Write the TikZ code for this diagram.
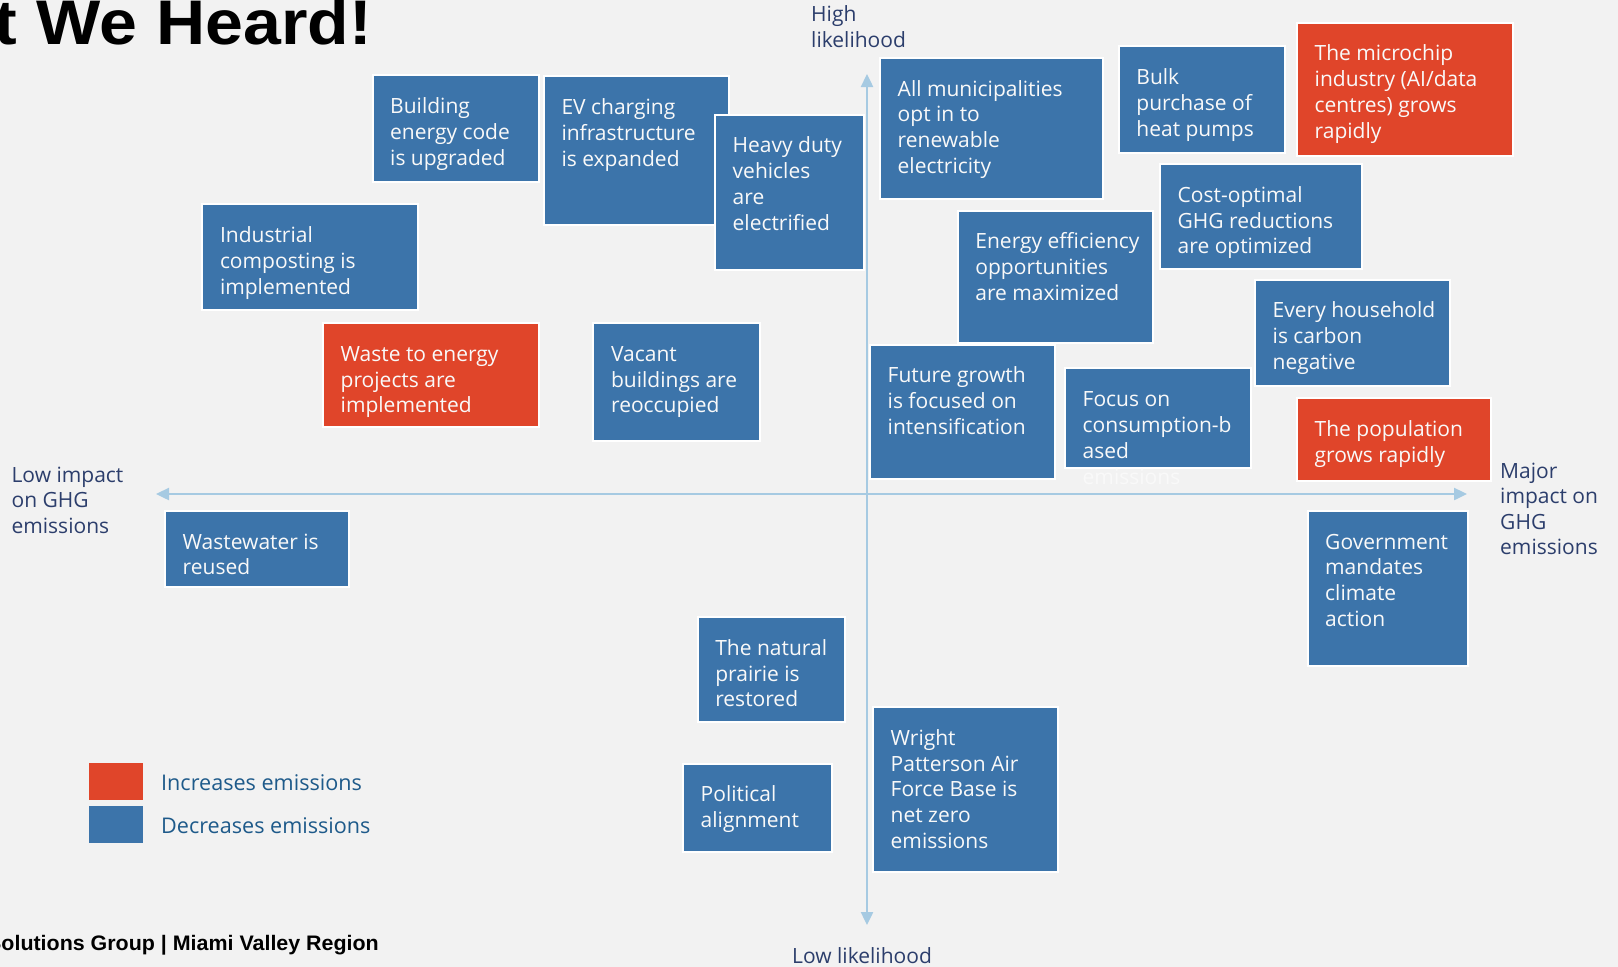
\documentclass[tikz,border=0pt]{standalone}
\usepackage{fontspec}
\setmainfont{Open Sans}
\newfontfamily\titlefont[FakeStretch=1.08]{Liberation Sans}
\newfontfamily\footfont[FakeStretch=1.02]{Liberation Sans}
\usetikzlibrary{arrows.meta}

\definecolor{bg}{HTML}{F2F2F2}
\definecolor{cblue}{HTML}{3C74AA}
\definecolor{cred}{HTML}{E0452A}
\definecolor{axisblue}{HTML}{A6CAE2}
\definecolor{navy}{HTML}{2C3E6C}
\definecolor{legtext}{HTML}{1E5A8A}

\tikzset{
  card/.style={draw=white, line width=2pt, inner sep=0pt, outer sep=0pt, anchor=north west},
  cardtext/.style={text=white!95!gray, font=\fontsize{21}{25.8}\selectfont, align=left, inner sep=0pt, anchor=north west},
  axislabel/.style={text=navy, font=\fontsize{21}{25.4}\selectfont, align=left, inner sep=0pt, anchor=north west},
  legendlabel/.style={text=legtext, font=\fontsize{21.6}{25}\selectfont, inner sep=0pt, anchor=base west},
  axisline/.style={draw=axisblue, line width=2.4pt, {Triangle[length=13pt,width=12pt]}-{Triangle[length=13pt,width=12pt]}},
  swatch/.style={inner sep=0pt, outer sep=0pt, anchor=north west, minimum width=54pt, minimum height=37pt}
}

% one scenario card: name, left, top, right, bottom, fill colour, text
\newcommand\scenario[7]{%
  \node[card, fill=#6, minimum width={#4pt-#2pt}, minimum height={#5pt-#3pt}] (#1) at (#2,#3) {};
  \node[cardtext] (#1-t) at ([shift={(17.5,20)}]#1.north west) {\rule{0pt}{18pt}#7};
}

\begin{document}
\begin{tikzpicture}[x=1pt, y=-1pt]
  \fill[bg] (0,0) rectangle (1618,967);
  \useasboundingbox (0,0) rectangle (1618,967);
  \clip (0,0) rectangle (1618,967);

  % heading and footer
  \node[anchor=base east, inner sep=0pt, font=\titlefont\bfseries\fontsize{63}{63}\selectfont] (title) at (372,44) {What We Heard!};
  \node[anchor=base east, inner sep=0pt, font=\footfont\bfseries\fontsize{21}{21}\selectfont] (footer) at (379,950) {Solutions Group | Miami Valley Region};

  % axes
  \coordinate (vtop) at (867,74);
  \coordinate (vbot) at (867,925);
  \coordinate (hleft) at (156,494);
  \coordinate (hright) at (1467,494);
  \draw[axisline] (vtop) -- (vbot);
  \draw[axisline] (hleft) -- (hright);

  % axis labels
  \node[axislabel] (high) at (811,3.5) {\rule{0pt}{18pt}High\\likelihood};
  \node[axislabel, anchor=base west] (low) at (792,963) {Low likelihood};
  \node[axislabel] (lowimp) at (11.4,464) {\rule{0pt}{18pt}Low impact\\on GHG\\emissions};
  \node[axislabel] (major) at (1500,460) {\rule{0pt}{18pt}Major\\impact on\\GHG\\emissions};

  % scenario cards
  \scenario{bldg}{372.5}{75.3}{538.7}{181.6}{cblue}{Building\\energy code\\is upgraded}
  \scenario{ev}{543.8}{76.4}{728.6}{225}{cblue}{EV charging\\infrastructure\\is expanded}
  \scenario{hdv}{715}{114.5}{863.8}{270.4}{cblue}{Heavy duty\\vehicles\\are\\electrified}
  \scenario{muni}{880}{57.8}{1103}{199.2}{cblue}{All municipalities\\opt in to\\renewable\\electricity}
  \scenario{bulk}{1118.7}{46.4}{1284.8}{152.7}{cblue}{Bulk\\purchase of\\heat pumps}
  \scenario{chip}{1297}{22.7}{1513}{155.8}{cred}{The microchip\\industry (AI/data\\centres) grows\\rapidly}
  \scenario{compost}{202.3}{204.3}{418}{309.6}{cblue}{Industrial\\composting is\\implemented}
  \scenario{costopt}{1160}{164}{1362}{269.3}{cblue}{Cost-optimal\\GHG reductions\\are optimized}
  \scenario{effic}{957.7}{210.5}{1152.7}{342.6}{cblue}{Energy efficiency\\opportunities\\are maximized}
  \scenario{house}{1255}{279.7}{1450}{386}{cblue}{Every household\\is carbon\\negative}
  \scenario{waste}{323}{323}{538.7}{427.2}{cred}{Waste to energy\\projects are\\implemented}
  \scenario{vacant}{593.4}{323}{759.5}{440.6}{cblue}{Vacant\\buildings are\\reoccupied}
  \scenario{growth}{870}{344.7}{1054.7}{478.8}{cblue}{Future growth\\is focused on\\intensification}
  \scenario{consume}{1065}{368.4}{1250.8}{467.5}{cblue}{Focus on\\consumption-b\\ased\\emissions}
  \scenario{pop}{1297}{398.3}{1491}{481}{cred}{The population\\grows rapidly}
  \scenario{water}{165}{510.8}{348.8}{587}{cblue}{Wastewater is\\reused}
  \scenario{govt}{1307.5}{510.8}{1467.5}{665.6}{cblue}{Government\\mandates\\climate\\action}
  \scenario{prairie}{697.6}{617}{845}{722.4}{cblue}{The natural\\prairie is\\restored}
  \scenario{politics}{683}{763.7}{831.8}{852.4}{cblue}{Political\\alignment}
  \scenario{wpafb}{873}{707}{1057.8}{872}{cblue}{Wright\\Patterson Air\\Force Base is\\net zero\\emissions}

  % legend
  \node[swatch, fill=cred] (keyred) at (89,763) {};
  \node[swatch, fill=cblue] (keyblue) at (89,806) {};
  \node[legendlabel] (keyredt) at (161,790) {Increases emissions};
  \node[legendlabel] (keybluet) at (161,833) {Decreases emissions};
\end{tikzpicture}
\end{document}
